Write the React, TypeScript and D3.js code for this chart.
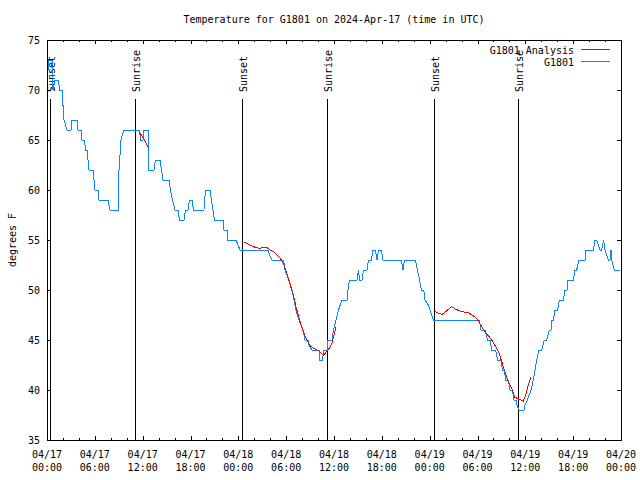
import React from "react";
import * as d3 from "d3";

const TITLE = "Temperature for G1801 on 2024-Apr-17 (time in UTC)";
const Y_LABEL = "degrees F";
const START = "2024-04-17T00:00:00Z";
const END = "2024-04-20T00:00:00Z";
const Y_TICKS = [35, 40, 45, 50, 55, 60, 65, 70, 75];

// hours after 04/17 00:00 UTC
const obsHours = [
  0.13, 0.25, 0.69, 0.75, 1.0, 1.44, 1.57, 1.88, 2.13, 2.51, 3.01, 3.14, 3.76, 3.89, 4.26, 4.39, 4.7, 4.83,
  5.02, 5.14, 5.27, 5.77, 5.9, 6.02, 6.4, 6.52, 7.65, 7.9, 8.91, 8.97, 9.03, 9.12, 9.19, 9.28, 9.53, 9.66,
  11.6, 11.73, 12.04, 12.17, 12.67, 12.79, 13.42, 13.61, 14.17, 14.36, 14.55, 15.3, 15.49, 15.74, 16.06,
  16.43, 16.62, 17.18, 17.37, 17.69, 17.87, 18.19, 18.38, 19.69, 19.88, 20.45, 20.63, 20.82, 21.01, 22.08,
  22.2, 22.58, 22.7, 23.71, 24.21, 27.72, 27.91, 28.22, 29.67, 29.85, 30.1, 30.36, 30.73, 30.98, 31.23,
  31.61, 32.11, 32.36, 32.74, 32.86, 33.24, 34.16, 34.24, 34.58, 34.68, 35.12, 35.25, 35.75, 35.94, 36.25,
  36.56, 37.0, 37.63, 37.76, 37.94, 38.89, 39.07, 39.2, 39.51, 39.7, 40.14, 40.33, 40.7, 40.89, 41.18,
  41.39, 41.58, 41.93, 42.15, 44.44, 44.66, 44.84, 46.2, 46.47, 46.73, 46.95, 47.25, 47.42, 47.83, 48.04,
  48.46, 54.23, 54.44, 54.94, 55.26, 55.57, 55.78, 56.28, 56.51, 56.95, 57.14, 57.36, 57.54, 57.86, 58.08,
  58.37, 58.58, 58.83, 58.95, 59.21, 59.83, 59.96, 60.25, 60.71, 61.0, 61.21, 61.43, 61.71, 62.05, 62.38,
  62.68, 63.01, 63.22, 63.35, 63.51, 63.72, 64.06, 64.26, 64.76, 64.98, 65.23, 65.35, 66.02, 66.23, 66.44,
  66.73, 67.49, 67.61, 68.53, 68.74, 68.95, 69.16, 69.37, 69.58, 69.82, 69.99, 70.41, 70.62, 70.75, 70.84,
  71.16, 71.87,
];
const obsTemps = [
  72, 73, 73, 70, 71, 71, 70, 70, 67, 66, 66, 67, 67, 66, 66, 65, 65, 64,
  64, 63, 62, 62, 61, 60, 60, 59, 59, 58, 58, 60, 62, 63, 64, 65, 65.7, 66,
  66, 65, 65, 66, 66, 62, 62, 63, 63, 62, 61, 61, 60, 59, 58,
  58, 57, 57, 58, 58, 59, 59, 58, 58, 60, 60, 59, 58, 57, 57,
  56, 56, 55, 55, 54, 54, 53.5, 53, 53, 52, 51.5, 51, 50, 49, 48,
  47, 46, 45, 45, 44.5, 44, 44, 43, 43, 44, 44, 45, 45, 46, 47,
  48, 49, 49, 50, 51, 51, 52, 51, 51, 52, 52, 53, 53, 54, 54,
  53, 54, 54, 53, 53, 52, 53, 53, 52, 51, 50, 50, 49, 48.5, 48,
  47, 47, 46, 46, 45, 45, 44, 44, 43, 43, 42, 42, 41, 41, 40,
  40, 39, 39, 38.5, 38, 38, 38.5, 39, 40, 41, 42, 43, 44, 44, 45,
  45, 46, 46, 47, 47, 48, 48, 49, 49, 50, 50, 51, 51, 52, 52,
  53, 53, 54, 54, 55, 55, 54.5, 54, 54, 55, 54, 53, 53, 54, 53,
  52, 52,
];

const anaHours1 = [11.6, 11.92, 12.29, 12.73];
const anaTemps1 = [65.8, 65.4, 64.9, 64.2];
const anaHours2 = [
  24.75, 25.3, 25.71, 26.13, 26.63, 27.18, 27.6, 28.01, 28.44, 28.85, 29.26, 29.69, 29.98, 30.32, 30.64,
  30.95, 31.23, 31.57, 31.9, 32.2, 32.61, 33.03, 33.58, 34.08, 34.71, 35.03, 35.41, 35.75, 35.96, 36.25,
];
const anaTemps2 = [
  54.8, 54.57, 54.4, 54.27, 54.17, 54.27, 54.23, 54.0, 53.83, 53.5, 53.17, 52.6, 51.9, 51.0, 50.17,
  49.33, 48.33, 47.33, 46.4, 45.73, 45.0, 44.4, 44.1, 43.93, 43.47, 43.83, 44.17, 44.67, 45.33, 46.33,
];
const anaHours3 = [
  48.67, 49.08, 49.58, 50.14, 50.76, 51.27, 51.81, 52.34, 52.85, 53.35, 53.9, 54.31, 54.73, 55.28, 55.78,
  56.28, 56.7, 57.04, 57.45, 57.86, 58.29, 58.7, 59.21, 59.75, 60.05, 60.37, 60.71,
];
const anaTemps3 = [
  47.83, 47.67, 47.57, 47.93, 48.33, 48.07, 47.9, 47.8, 47.73, 47.5, 47.17, 46.6, 46.07, 45.5, 45.0,
  44.33, 43.67, 42.83, 41.83, 40.83, 40.17, 39.27, 39.07, 38.9, 39.5, 40.5, 41.33,
];

const sunLabels = ["Sunset", "Sunrise", "Sunset", "Sunrise", "Sunset", "Sunrise"];
const sunTimes = [
  "2024-04-17T00:23:00Z",
  "2024-04-17T11:05:00Z",
  "2024-04-18T00:30:00Z",
  "2024-04-18T11:10:00Z",
  "2024-04-19T00:35:00Z",
  "2024-04-19T11:07:00Z",
];

const legendNames = ["G1801 Analysis", "G1801"];
const RED = "#ff0000";
const BLUE = "#0a84ff";
const FONT = "'DejaVu Sans Mono', 'Liberation Mono', monospace";

const W = 640, H = 480;
const M = { left: 47, right: 621, top: 40, bottom: 440 };

export default function App() {
  const t0 = new Date(START).getTime();
  const x = d3.scaleUtc().domain([new Date(START), new Date(END)]).range([M.left, M.right]);
  const y = d3.scaleLinear().domain([35, 75]).range([M.bottom, M.top]);
  const hx = (h: number) => x(new Date(t0 + h * 3600000));

  const mk = (hs: number[], vs: number[]) =>
    d3.line<number>().x((h) => hx(h)).y((_, i) => y(vs[i]))(hs) || "";

  const minorTicks = x.ticks(d3.utcHour.every(2)!);
  const majorTicks = x.ticks(d3.utcHour.every(6)!);
  const fmtD = d3.utcFormat("%m/%d");
  const fmtT = d3.utcFormat("%H:%M");

  return (
    <svg width={W} height={H} style={{ position: "absolute", left: 0, top: 0, background: "#fff" }}
      fontFamily={FONT} fontSize={10}>
      <rect x={0} y={0} width={W} height={H} fill="#fff" />
      <text x={(M.left + M.right) / 2} y={23} textAnchor="middle">{TITLE}</text>
      <text transform={`translate(12,${(M.top + M.bottom) / 2}) rotate(-90)`} textAnchor="middle"
        dominantBaseline="central">{Y_LABEL}</text>

      <g shapeRendering="crispEdges" stroke="#000">
        {minorTicks.map((d, i) => (
          <g key={"mi" + i}>
            <line x1={Math.round(x(d)) + 0.5} x2={Math.round(x(d)) + 0.5} y1={M.bottom} y2={M.bottom - 2} />
            <line x1={Math.round(x(d)) + 0.5} x2={Math.round(x(d)) + 0.5} y1={M.top} y2={M.top + 2} />
          </g>
        ))}
        {majorTicks.map((d, i) => (
          <g key={"ma" + i}>
            <line x1={Math.round(x(d)) + 0.5} x2={Math.round(x(d)) + 0.5} y1={M.bottom} y2={M.bottom - 4} />
            <line x1={Math.round(x(d)) + 0.5} x2={Math.round(x(d)) + 0.5} y1={M.top} y2={M.top + 4} />
          </g>
        ))}
        {Y_TICKS.map((v) => (
          <g key={"y" + v}>
            <line x1={M.left} x2={M.left + 4} y1={Math.round(y(v)) + 0.5} y2={Math.round(y(v)) + 0.5} />
            <line x1={M.right} x2={M.right - 4} y1={Math.round(y(v)) + 0.5} y2={Math.round(y(v)) + 0.5} />
          </g>
        ))}
      </g>

      {majorTicks.map((d, i) => (
        <g key={"xl" + i}>
          <text x={x(d)} y={458} textAnchor="middle">{fmtD(d)}</text>
          <text x={x(d)} y={471} textAnchor="middle">{fmtT(d)}</text>
        </g>
      ))}
      {Y_TICKS.map((v) => (
        <text key={"yl" + v} x={40} y={y(v)} textAnchor="end" dominantBaseline="central">{v}</text>
      ))}

      {sunTimes.map((s, i) => {
        const sx = Math.round(x(new Date(s))) + 0.5;
        return (
          <g key={"sun" + i}>
            <line x1={sx} x2={sx} y1={99} y2={M.bottom} stroke="#000" shapeRendering="crispEdges" />
            <text transform={`translate(${sx + 1},92) rotate(-90)`} textAnchor="start"
              dominantBaseline="central">{sunLabels[i]}</text>
          </g>
        );
      })}

      <g fill="none" strokeWidth={1} shapeRendering="crispEdges">
        <path d={mk(obsHours, obsTemps)} stroke={BLUE} />
        <path d={mk(anaHours1, anaTemps1)} stroke={RED} />
        <path d={mk(anaHours2, anaTemps2)} stroke={RED} />
        <path d={mk(anaHours3, anaTemps3)} stroke={RED} />
      </g>

      <rect x={M.left + 0.5} y={M.top + 0.5} width={M.right - M.left} height={M.bottom - M.top}
        fill="none" stroke="#000" shapeRendering="crispEdges" />

      <g>
        <text x={574} y={50} textAnchor="end" dominantBaseline="central">{legendNames[0]}</text>
        <rect x={581} y={49} width={29} height={1} fill={RED} />
        <text x={574} y={62} textAnchor="end" dominantBaseline="central">{legendNames[1]}</text>
        <rect x={581} y={61} width={29} height={1} fill={BLUE} />
      </g>
    </svg>
  );
}
